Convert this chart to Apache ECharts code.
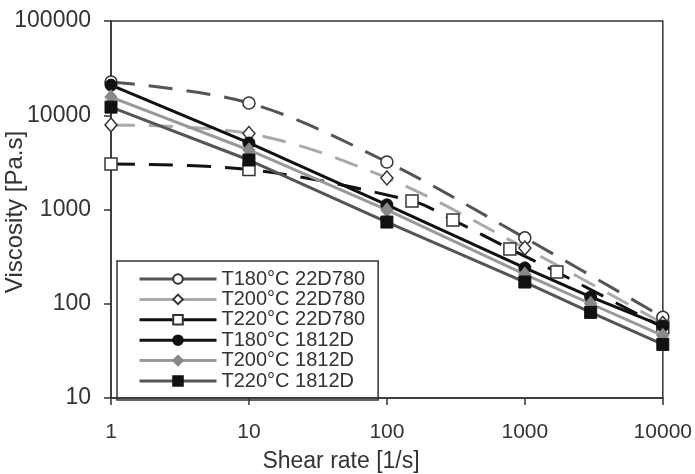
<!DOCTYPE html>
<html>
<head>
<meta charset="utf-8">
<script src="https://cdn.jsdelivr.net/npm/echarts@6/dist/echarts.min.js"></script>
<style>html,body{margin:0;padding:0;background:#fff}#c{width:695px;height:474px}</style>
</head>
<body>
<div id="c"></div>
<script>
// Shear rates
const rate22 = [1, 10, 100, 1000, 10000];
const rateT220_22 = [1, 10, 152, 301, 779, 1706, 10000];
const rate1812 = [1, 10, 100, 1000, 3000, 10000];

// Viscosities [Pa.s]
const t180_22D780 = [22500, 13500, 3190, 500, 72];
const t200_22D780 = [7900, 6400, 2160, 390, 62];
const t220_22D780 = [3040, 2650, 1230, 774, 381, 217, 56];
const t180_1812D = [20900, 5080, 1120, 240, 118, 58];
const t200_1812D = [15600, 4280, 990, 205, 100, 46];
const t220_1812D = [12200, 3350, 736, 170, 81, 37];

const xTicks = ['1', '10', '100', '1000', '10000'];
const yTicks = ['10', '100', '1000', '10000', '100000'];
const names = ['T180°C 22D780', 'T200°C 22D780', 'T220°C 22D780', 'T180°C 1812D', 'T200°C 1812D', 'T220°C 1812D'];

const zip = (xs, ys) => xs.map((x, i) => [x, ys[i]]);
const FONT = 'Liberation Sans, Arial, sans-serif';

function dashed(name, xs, ys, color, symbol) {
  return {
    name, type: 'line', data: zip(xs, ys), smooth: 0.35,
    symbol, symbolSize: symbol === 'diamond' ? [12, 14] : 12,
    lineStyle: { color, width: 3, type: [24, 14] },
    itemStyle: { color: '#fff', borderColor: '#333', borderWidth: 1.5 },
    z: 2
  };
}
function solid(name, xs, ys, color, symbol, mcolor) {
  return {
    name, type: 'line', data: zip(xs, ys),
    symbol, symbolSize: symbol === 'diamond' ? [12, 14] : 12,
    lineStyle: { color, width: 3 },
    itemStyle: { color: mcolor, borderColor: mcolor, borderWidth: 1 },
    z: 3
  };
}

const chart = echarts.init(document.getElementById('c'));
chart.setOption({
  animation: false,
  backgroundColor: '#fff',
  grid: { left: 111, right: 32, top: 21, bottom: 76, show: true, borderColor: '#333', borderWidth: 1.5, backgroundColor: 'transparent' },
  xAxis: {
    type: 'log', logBase: 10, min: 1, max: 10000,
    axisLine: { lineStyle: { color: '#333', width: 1.5 } },
    axisTick: { show: true, length: 7, lineStyle: { color: '#333', width: 1.5 } },
    axisLabel: { margin: 24, fontSize: 21, color: '#333', fontFamily: FONT,
      formatter: v => xTicks.find(t => Number(t) === Math.round(v)) || '' },
    splitLine: { show: false }, minorTick: { show: false }
  },
  yAxis: {
    type: 'log', logBase: 10, min: 10, max: 100000,
    axisLine: { lineStyle: { color: '#333', width: 1.5 } },
    axisTick: { show: true, length: 7, lineStyle: { color: '#333', width: 1.5 } },
    axisLabel: { margin: 20, fontSize: 23, color: '#333', fontFamily: FONT,
      formatter: v => yTicks.find(t => Number(t) === Math.round(v)) || '' },
    splitLine: { show: false }
  },
  legend: {
    orient: 'vertical', left: 117, top: 261,
    data: names,
    itemWidth: 77, itemHeight: 12, itemGap: 0.4,
    padding: [8, 13, 9, 21],
    borderColor: '#333', borderWidth: 1.5, borderRadius: 0,
    lineStyle: { type: 'solid', width: 3 },
    textStyle: { fontSize: 20, lineHeight: 19, color: '#333', fontFamily: FONT },
    selectedMode: false
  },
  graphic: [
    { type: 'text', x: 341, y: 462, style: { text: 'Shear rate [1/s]', fontSize: 23, fontFamily: FONT, fill: '#333', textAlign: 'center', textVerticalAlign: 'middle' } },
    { type: 'text', rotation: Math.PI / 2, x: 15, y: 212, style: { text: 'Viscosity [Pa.s]', fontSize: 24, fontFamily: FONT, fill: '#333', textAlign: 'center', textVerticalAlign: 'middle' } }
  ],
  series: [
    dashed(names[0], rate22, t180_22D780, '#555', 'circle'),
    dashed(names[1], rate22, t200_22D780, '#aaa', 'diamond'),
    dashed(names[2], rateT220_22, t220_22D780, '#111', 'rect'),
    solid(names[3], rate1812, t180_1812D, '#111', 'circle', '#111'),
    solid(names[4], rate1812, t200_1812D, '#999', 'diamond', '#888'),
    solid(names[5], rate1812, t220_1812D, '#555', 'rect', '#111')
  ]
});
</script>
</body>
</html>
